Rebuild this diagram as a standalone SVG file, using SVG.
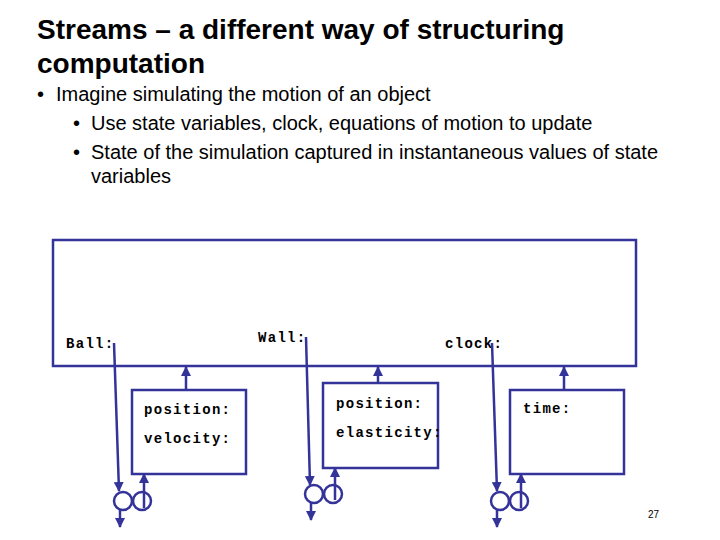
<svg xmlns="http://www.w3.org/2000/svg" width="720" height="540" viewBox="0 0 720 540">
<defs>
<marker id="ah" viewBox="0 0 10 10" refX="9" refY="5" markerWidth="4" markerHeight="4" orient="auto"><path d="M0,0 L10,5 L0,10 z" fill="#333399"/></marker>
<style>
.t{font-family:"Liberation Sans",Arial,sans-serif;fill:#000}
.m{font-family:"Liberation Mono","Courier New",monospace;font-weight:bold;font-size:14px;letter-spacing:1.3px;fill:#000}
.b{fill:#fff;stroke:#333399;stroke-width:2.5}
.c{fill:none;stroke:#333399;stroke-width:2.5}
.a{stroke:#333399;stroke-width:2.5;fill:none;marker-end:url(#ah)}
</style>
</defs>
<rect width="720" height="540" fill="#fff"/>
<text class="t" x="37" y="39" font-size="28" font-weight="bold">Streams – a different way of structuring</text>
<text class="t" x="37" y="73" font-size="28" font-weight="bold">computation</text>
<text class="t" x="37" y="101" font-size="20">•</text><text class="t" x="56" y="101" font-size="20">Imagine simulating the motion of an object</text>
<text class="t" x="73" y="130" font-size="20">•</text><text class="t" x="91" y="130" font-size="20">Use state variables, clock, equations of motion to update</text>
<text class="t" x="73" y="159" font-size="20">•</text><text class="t" x="91" y="159" font-size="20">State of the simulation captured in instantaneous values of state</text>
<text class="t" x="91" y="183" font-size="20">variables</text>
<g id="world">
<rect class="b" x="53" y="240" width="583" height="126"/>
<text class="m" x="66" y="348">Ball:</text>
<text class="m" x="258" y="342">Wall:</text>
<text class="m" x="445" y="348">clock:</text>
</g>
<g id="ball"><rect class="b" x="132" y="390" width="114" height="84"/>
<text class="m" x="144" y="414">position:</text><text class="m" x="144" y="443">velocity:</text>
<circle class="c" cx="123" cy="501" r="9"/><circle class="c" cx="142" cy="501" r="9"/></g>
<g id="wall"><rect class="b" x="323" y="383" width="115" height="85"/>
<text class="m" x="336" y="408">position:</text><text class="m" x="336" y="437">elasticity:</text>
<circle class="c" cx="314" cy="494" r="9"/><circle class="c" cx="333" cy="494" r="9"/></g>
<g id="clock"><rect class="b" x="510" y="390" width="114" height="84"/>
<text class="m" x="523" y="413">time:</text>
<circle class="c" cx="500" cy="501" r="9"/><circle class="c" cx="519" cy="501" r="9"/></g>
<g id="connectors">
<path class="a" d="M114,343 L119,491"/>
<path class="a" d="M120,509 L120,527"/>
<path class="a" d="M144,508 L144,474"/>
<path class="a" d="M186,390 L186,367"/>
<path class="a" d="M306,337 L310,485"/>
<path class="a" d="M311,502 L311,520"/>
<path class="a" d="M335,500 L335,468"/>
<path class="a" d="M378,383 L378,367"/>
<path class="a" d="M492,343 L497,491"/>
<path class="a" d="M497,509 L497,527"/>
<path class="a" d="M521,508 L521,474"/>
<path class="a" d="M564,390 L564,367"/>
</g>
<text class="t" x="648" y="518" font-size="10">27</text>
</svg>
